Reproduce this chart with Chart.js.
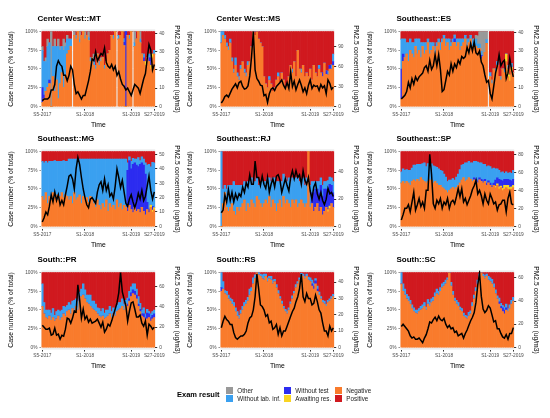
<!DOCTYPE html>
<html>
<head>
<meta charset="utf-8">
<script src="https://cdn.jsdelivr.net/npm/chart.js@4.4.0/dist/chart.umd.min.js"></script>
<style>
  body { margin: 0; background: #fff; width: 550px; height: 418px; position: relative; overflow: hidden; font-family: "Liberation Sans", Arial, sans-serif; }
  .panel { position: absolute; width: 187px; height: 131px; }
  .lg { position: absolute; white-space: nowrap; }
  .lg-title { font-weight: bold; font-size: 7.5px; color: #000; }
  .lg-box { position: absolute; width: 6.5px; height: 6.5px; }
  .lg-text { font-size: 6.3px; color: #1a1a1a; line-height: 8px; }
</style>
</head>
<body>
<div id="panels"></div>
<div id="legend"></div>
<script>
// weeks are shown every 2nd epidemiological week, S5-2017 .. S27-2019
const tickLabels = ['S5-2017', 'S1-2018', 'S1-2019', 'S27-2019'];
const pctTicks = [0, 25, 50, 75, 100];

const categories = ['Other', 'Without lab. inf.', 'Without test', 'Awaiting res.', 'Negative', 'Positive'];
const categoryColors = ['#999999', '#3AA0F0', '#2C2CF0', '#F9D423', '#F97B2C', '#D0191F'];
const categoryKeys = ['oth', 'wli', 'wt', 'aw', 'neg', 'pos'];
// bottom -> top
const stackOrder = ['neg', 'aw', 'wt', 'wli', 'oth', 'pos'];

const panelTitles = ['Center West::MT', 'Center West::MS', 'Southeast::ES',
                     'Southeast::MG', 'Southeast::RJ', 'Southeast::SP',
                     'South::PR', 'South::RS', 'South::SC'];
const pmAxisMax = [41, 113, 40.5, 52, 55, 83, 74, 45.8, 64.5];
const pmTicks = [[0, 10, 20, 30, 40], [0, 30, 60, 90], [0, 10, 20, 30, 40],
                 [0, 10, 20, 30, 40, 50], [0, 20, 40], [0, 20, 40, 60, 80],
                 [0, 20, 40, 60], [0, 10, 20, 30, 40], [0, 20, 40, 60]];

// ---- Center West::MT
const mtNeg = [5,10,20,25,30,0,40,20,35,10, 30,45,25,40,70,75,80,0,95,90, 100,85,95,100,90,95,88,60,65,55, 50,70,55,60,65,50,60,70,75,95, 90,100,0,90,95,100,85,0,95,90, 100,0,80,90,100,85,70,60,55,65, 60,50,65,70];
const mtWli = [50,45,40, 55,50,0,40,60,45,70,45,35,50,40, 20,15,10,0, 0,5,0,5,0,0,5,0,4, 5,0,10,5,0,5,0,0,5,0,0,0, 0,5,0,0,5,0,0,5,0,0,5, 0,0,5,0,0,5, 0,5,0,0,5,0,0,5];
const mtOth = [5,0,5, 10,0,100,0,10,0,10,5,0,15,5, 5,0,0,0, 5,0,0,10,0,0,5,0,8, 0,0,5,0,0,0,5,0,0,0,0,0, 0,0,0,0,0,0,0,0,0,0,0, 0,0,15,0,0,10, 0,0,0,0,0,5,0,0];
const mtWt = [20,5,0, 0,5,0,0,0,0,0,0,0,0,0, 0,0,0,0, 0,0,0,0,0,0,0,0,0, 0,0,0,0,0,0,0,0,0,0,0,0, 0,0,0,0,0,0,0,5,100,0,0, 0,0,0,0,0,0, 0,5,0,0,5,10,0,0];
const mtAw = [0,0,0, 0,0,0,0,0,0,0,0,0,0,0, 0,0,0,0, 0,0,0,0,0,0,0,0,0, 0,0,0,0,0,0,0,0,0,0,0,0, 0,0,0,0,0,0,0,0,0,0,0, 0,0,0,0,0,0, 0,0,5,0,0,5,5,0];
const mtPos = [20,40,35, 10,15,0,20,10,20,10,20,20,10,15, 5,10,10,0, 0,5,0,0,5,0,0,5,0, 35,35,30,45,30,40,35,35,45,40,30,25, 5,5,0,0,5,5,0,10,0,5,5, 0,0,0,10,0,0, 30,30,40,35,30,30,30,25];
const mtPm = [3,4,4,4,5,9,9,12,22,25, 23,22,17,17,14,17,22,20,12,7, 8,6,4,6,6,10,14,19,26,25, 30,25,27,29,28,32,24,22,21,23, 20,22,17,19,15,12,11,9,10,8, 6,9,12,11,10,7,11,15,18,26, 34,31,20,23];

// ---- Center West::MS
const msNeg = [85,95,90,80,75,85, 60,45,55,40,35,50,60,45,40,55,60, 80,100, 95,100,90,85,80, 40,30,25,35,30,20,25,35,40,30,45,35,25,30,40, 55,45,60,40,75,50,45,55,40, 45,40,50,35,55,45,40,50,45,40,55,45,40,50,45,55];
const msWli = [15,5,5,5,5,5, 5,5,10,5,5,5,0,5,5,5,0, 0,0, 0,0,0,0,0, 0,0,0,5,0,0,0,0,5,0,0,0,0,0,0, 0,5,0,0,0,0,5,0,0, 0,0,0,0,0,0,0,5,0,0,0,0,5,0,5,10];
const msWt = [0,0,0,0,0,0, 0,0,0,0,0,0,0,0,0,0,0, 0,0, 0,0,0,0,0, 0,0,0,0,0,0,0,0,0,0,0,0,0,0,0, 0,0,0,0,0,0,0,0,0, 0,0,0,0,0,0,0,0,0,5,0,5,0,5,0,5];
const msPos = [0,0,5,15,20,10, 35,50,35,55,60,45,40,50,55,40,40, 20,0, 5,0,10,15,20, 60,70,75,60,70,80,75,65,55,70,55,65,75,70,60, 45,50,40,60,25,50,50,45,60, 55,60,50,65,45,55,60,45,55,55,40,55,50,45,40,30];
const msPm = [5,9,15,17,14,20,26,30,34,28, 36,38,30,26,27,31,46,75,113,55, 42,38,32,31,16,18,6,19,26,28, 24,30,33,36,40,32,27,36,27,52, 30,38,25,33,40,32,22,28,19,32, 40,27,32,30,31,24,33,28,31,19, 40,35,26,29];

// ---- Southeast::ES
const esNeg = [10,60, 65,70,60,75,70,65,80,70,75,65,80,70,75,85,70,75,80,70,80,85,75, 85,90,80,85,75,80,85,90,80,85,75,80,85,90,80,85,90,80,85,80, 70,70,60,60,65,80,0, 40,30,50,45,55,40,35,50,45,60,40,35,50,45];
const esWli = [40,20, 25,15,25,15,15,20,10,20,15,20,5,15,10,5,15,10,5,10,5,5,10, 5,5,10,5,15,5,5,5,10,5,15,10,5,5,10,5,5,10,5,10, 5,5,5,0,0,5,0, 5,5,0,5,5,0,5,0,5,0,5,0,5,0];
const esWt = [40,10, 0,0,0,0,0,0,0,0,0,0,0,0,0,0,0,0,0,0,0,0,0, 0,0,0,0,0,0,0,5,0,0,0,0,0,0,0,0,0,0,0,0, 0,0,5,0,0,0,0, 0,0,0,0,0,0,0,0,0,0,0,0,0,0];
const esOth = [0,0, 0,0,0,0,0,0,0,0,0,0,0,0,0,0,0,0,0,0,0,0,0, 0,0,0,0,0,0,0,0,0,0,0,0,0,0,0,0,0,0,5,5, 10,15,25,30,25,10,0, 0,0,0,0,0,0,0,0,0,0,0,0,0,0];
const esAw = [0,0, 0,0,0,0,0,0,0,0,0,0,0,0,0,0,0,0,0,0,0,0,0, 0,0,0,0,0,0,0,0,0,0,0,0,0,0,0,0,0,0,0,0, 0,0,0,0,0,0,0, 0,0,0,0,0,0,0,0,0,10,10,8,5,0];
const esPos = [10,10, 10,15,15,10,15,15,10,10,10,15,15,15,15,10,15,15,15,20,15,10,15, 10,5,10,10,10,15,10,5,10,10,10,10,10,5,10,10,5,10,10,5, 5,0,0,0,0,0,0, 55,65,50,50,40,60,60,50,50,30,45,60,45,55];
const esPm = [4,5,6,8,13,10,15,12,16,14, 16,17,18,21,22,19,25,20,22,28, 22,28,20,8,9,14,19,17,23,19, 23,21,25,23,27,26,27,32,29,34, 30,35,29,28,30,24,22,17,13,14, 7,4,11,18,22,28,22,24,25,15, 18,26,20,16];

// ---- Southeast::MG
const mgNeg = [40,35,45,30,40,35,45,38,42,35,40,45,38,42,40, 35,40,30,45,35,38,42,30,40,35,38,32,40,36, 30,25,35,28,22,30,25,35,20,30,25,28,22,35,25,30,22,28, 25,20,28,22,18,25,20,22,18,25,20,15,22,18,25,20,22];
const mgWli = [47,50,42,55,47,52,42,50,45,52,47,42,50,45,47, 55,50,60,45,55,52,48,60,50,55,52,58,50,54, 60,65,55,62,68,60,65,55,70,60,65,62,68,55,65,60,68,62, 65,10,5,10,8,5,8,12,5,8,8,15,50,60,50,62,60];
const mgWt = [0,0,0,0,0,0,0,0,0,0,0,0,0,0,0, 0,0,0,0,0,0,0,0,0,0,0,0,0,0, 0,0,0,0,0,0,0,0,0,0,0,0,0,0,0,0,0,0, 0,55,60,55,65,60,62,58,65,60,62,55,10,5,0,5,0];
const mgAw = [0,0,0,0,0,0,0,0,0,0,0,0,0,0,0, 0,0,0,0,0,0,0,0,0,0,0,0,0,0, 0,0,0,0,0,0,0,0,0,0,0,0,0,0,0,0,0,0, 0,0,0,0,0,0,0,0,0,0,0,0,0,0,3,3,3];
const mgPos = [13,15,13,15,13,13,13,12,13,13,13,13,12,13,13, 10,10,10,10,10,10,10,10,10,10,10,10,10,10, 10,10,10,10,10,10,10,10,10,10,10,10,10,10,10,10,10,10, 10,15,7,13,9,10,10,8,12,7,10,15,18,17,20,15,15];
const mgPm = [3,6,10,8,14,22,17,24,18,22, 15,18,15,22,28,35,36,33,26,40, 48,43,34,26,20,15,13,19,20,18, 16,24,29,31,25,33,25,29,21,23, 19,28,40,34,27,32,24,16,14,19, 22,17,13,17,23,19,25,18,21,28, 35,25,19,24];

// ---- Southeast::RJ
const rjNeg = [0, 30,45,25,20,25,30,20,15,25,20, 25,30,35,20,30,25,35,30,25,40,35,30,25,30, 35,30,40,25,35,30,20,30,35,25,40,30,35,30,25,35, 30,35,25,30,35,30,25,30,100,25, 30,20,25,30,20,25,15,20,25,20,25,30,25];
const rjWli = [100, 20,10,25,35,30,25,40,40,30,35, 30,25,25,35,30,35,30,25,35,25,20,25,35,30, 25,35,25,35,30,35,40,30,25,35,30,35,25,35,35,30, 35,30,40,30,25,35,30,35,0,30, 15,15,10,10,15,10,15,10,10,15,10,10,15];
const rjWt = [0, 0,0,0,0,0,0,0,0,0,0, 0,0,0,0,0,0,0,0,0,0,0,0,0,0, 0,0,0,0,0,0,0,0,0,0,0,0,0,0,0,0, 0,0,0,0,0,0,0,0,0,0, 15,25,25,20,25,30,25,30,25,25,30,25,20];
const rjAw = [0, 0,0,0,0,0,0,0,0,0,0, 0,0,0,0,0,0,0,0,0,0,0,0,0,0, 0,0,0,0,0,0,0,0,0,0,0,0,0,0,0,0, 0,0,0,0,0,0,0,0,0,0, 0,0,0,0,0,0,0,0,0,3,3,0,0];
const rjPos = [0, 50,45,50,45,45,45,40,45,45,45, 45,45,40,45,40,40,35,45,40,35,45,45,40,40, 40,35,35,40,35,35,40,40,40,40,30,35,40,35,40,35, 35,35,35,40,40,35,45,35,0,45, 40,40,40,40,40,35,45,40,40,40,35,35,40];
const rjPm = [10,12,23,18,27,19,25,18,24,20, 24,22,29,25,32,29,38,31,31,48, 36,36,30,37,31,28,36,25,31,35, 29,37,38,34,25,30,35,30,26,36, 41,35,41,36,38,31,41,34,31,36, 26,20,29,32,24,20,25,19,16,20, 28,24,25,22];

// ---- Southeast::SP
const spNeg = [58,60,57,60,58,55,60, 62,60,63,60,65,62,60,58,60,62,60,58,60,57,55, 55,52,50,48,45,48,50,52, 50,52,55,58,62,65,60,62,65,63,60, 62,60,58,62,60,58,60,55,58,55,52,55, 52,55,50,52,48,50,52,50,48,50,52];
const spWli = [15,17,18,16,17,20,18, 20,22,20,23,18,22,25,22,24,20,22,23,20,22,22, 20,22,20,18,15,14,12,12, 12,14,15,18,20,18,25,23,22,22,25, 22,24,25,20,22,22,20,22,20,22,22,20, 15,12,12,10,12,8,10,8,10,10,12];
const spWt = [0,0,0,0,0,0,0, 0,0,0,0,0,0,0,0,0,0,0,0,0,0,0, 0,0,0,0,0,0,0,0, 0,0,0,0,0,0,0,0,0,0,0, 3,3,3,3,3,3,3,3,3,3,3,3, 8,8,10,8,10,8,8,8,10,8,8];
const spAw = [0,0,0,0,0,0,0, 0,0,0,0,0,0,0,0,0,0,0,0,0,0,0, 0,0,0,0,0,0,0,0, 0,0,0,0,0,0,0,0,0,0,0, 0,0,0,0,0,0,0,0,0,0,0,0, 2,2,3,2,3,5,3,5,4,3,3];
const spPos = [27,23,25,24,25,25,22, 18,18,17,17,17,16,15,20,16,18,16,19,20,21,23, 25,26,30,34,40,38,38,36, 38,34,30,24,18,17,15,15,13,15,15, 13,13,14,15,15,17,17,20,19,20,23,22, 23,23,25,28,27,29,27,29,28,29,25];
const spPm = [7,13,20,20,24,16,27,38,18,24, 31,22,27,20,40,40,80,58,25,20, 29,25,31,20,27,24,31,20,27,29, 25,33,42,33,42,27,31,24,29,34, 41,45,51,36,40,34,25,36,29,25, 36,31,25,27,18,24,25,29,29,16, 31,38,25,24];

// ---- South::PR
const prNeg = [55,45, 40,38,42,36,40,35,38,42,36,40, 45,42,48,50,45,52,48,55,50, 62,68,70,65,60,58,55,52, 50,48,45,42,40,42,38,40, 42,45,40,45,42,48,50, 52,55,50,58,55,62,68, 72,70,65,55,48,42,40, 35,38,40,35,38,40];
const prWli = [30,15, 10,12,8,10,12,8,10,8,12,10, 10,12,8,10,12,10,15,10,12, 12,10,15,12,10,12,15,10, 12,10,8,10,8,10,8,10, 8,10,8,8,10,8,10, 8,10,8,5,8,10,8, 8,10,8,10,8,5,8, 5,5,3,5,5,5];
const prWt = [0,0, 0,0,0,0,0,0,0,0,0,0, 0,0,0,0,0,0,0,0,0, 0,0,0,0,0,0,0,0, 0,0,0,0,0,0,0,0, 0,0,0,0,0,0,0, 0,0,0,0,3,3,5, 5,5,5,3,3,3,5, 5,8,5,5,5,5];
const prPos = [15,40, 50,50,50,54,48,57,52,50,52,50, 45,46,44,40,43,38,37,35,38, 26,22,15,23,30,30,30,38, 38,42,47,48,52,48,54,50, 50,45,52,47,48,44,40, 40,35,42,37,34,25,19, 15,15,22,32,41,50,47, 55,49,52,55,52,50];
const prPm = [22,20,18,18,19,12,13,19,12,13, 8,12,11,18,29,28,24,29,36,35, 62,47,29,38,28,31,25,28,24,25, 26,28,24,20,25,15,18,23,21,26, 32,38,44,54,74,55,48,41,26,36, 44,45,38,30,30,32,24,21,26,12, 23,21,18,20];

// ---- South::RS
const rsNeg = [75,78, 72,70,65,62,58,55,48, 42,38,45, 50,55,58,62,70,75,85,92, 100,97,95, 92,90,95,88,92,90,85,88, 80,72,65,58,52,48,45,50, 58,65,72,80,85,90, 97,95,92,95,90,88, 82,78,85,75,70, 65,60,58,55,60,62,65,68];
const rsWli = [20,10, 4,5,5,4,6,5,5, 6,5,5, 5,5,5,5,8,5,8,5, 0,3,3, 5,8,3,5,3,5,5,3, 4,4,3,4,3,3,4,3, 3,4,3,4,3,3, 2,3,3,3,4,5, 5,4,3,4,4, 3,3,4,3,3,3,3,3];
const rsWt = [5,0, 0,0,0,0,0,0,0, 0,0,0, 0,0,0,0,0,0,0,0, 0,0,0, 0,0,0,0,0,0,0,0, 0,0,0,0,0,0,0,0, 0,0,0,0,0,0, 0,0,0,0,0,0, 3,4,4,3,0, 0,0,0,0,0,0,0,0];
const rsPos = [0,12, 24,25,30,34,36,40,47, 52,57,50, 45,40,37,33,22,20,7,3, 0,0,2, 3,2,2,7,5,5,10,9, 16,24,32,38,45,49,51,47, 39,31,25,16,12,7, 1,2,5,2,6,7, 10,14,8,18,26, 32,37,38,42,37,35,32,29];
const rsPm = [12,16,19,17,16,14,14,9,6,5, 6,7,7,8,10,15,18,19,23,31, 45,36,26,25,23,19,20,15,16,11, 12,14,8,12,7,10,10,13,16,19, 22,24,28,31,36,45,31,28,33,30, 30,26,27,32,28,23,21,15,10,10, 7,13,10,12];

// ---- South::SC
const scNeg = [85,75, 70,65,62,58,52, 48,46,45,48,50, 52,55,50,58,55,60, 62,68,72,70,75,80, 82,85,90,100,82, 70,62,58,55,50,48, 42,40,38,42,45, 55,65,75,85, 95,100,95,92,95,90, 88,85,80,72,65, 58,52,48,45,50, 48,52,58,62];
const scWli = [15,10, 8,6,6,5,5, 5,4,5,4,5, 5,5,4,6,5,5, 5,5,6,5,5,5, 5,5,3,0,5, 5,4,5,5,4,4, 4,3,4,5,4, 5,5,5,5, 3,0,3,4,3,5, 5,6,5,5,4, 5,4,3,4,5, 4,5,5,5];
const scWt = [0,0, 0,0,0,0,0, 0,0,0,0,0, 0,0,0,0,0,0, 0,0,0,0,0,0, 0,0,0,0,0, 0,0,0,0,0,0, 0,0,0,0,0, 0,0,0,0, 0,0,0,0,0,0, 0,0,0,0,0, 3,3,5,5,3, 0,0,0,0];
const scPos = [0,15, 22,29,32,37,43, 47,50,50,48,45, 43,40,46,36,40,35, 33,27,22,25,20,15, 13,10,7,0,13, 25,34,37,40,46,48, 54,57,58,53,51, 40,30,20,10, 2,0,2,4,2,5, 7,9,15,23,31, 34,41,44,46,42, 48,43,37,33];
const scPm = [18,20,18,16,14,10,8,9,7,7, 8,6,4,8,11,16,22,21,24,26, 23,27,24,23,25,20,17,19,16,17, 13,14,10,11,12,8,12,15,19,23, 26,30,39,54,64,44,33,30,32,36, 34,28,22,23,16,16,12,9,8,11, 7,12,12,17];

const panels = [
  { neg: mtNeg, aw: mtAw, wt: mtWt, wli: mtWli, oth: mtOth, pos: mtPos, pm: mtPm },
  { neg: msNeg, wt: msWt, wli: msWli, pos: msPos, pm: msPm },
  { neg: esNeg, aw: esAw, wt: esWt, wli: esWli, oth: esOth, pos: esPos, pm: esPm },
  { neg: mgNeg, aw: mgAw, wt: mgWt, wli: mgWli, pos: mgPos, pm: mgPm },
  { neg: rjNeg, aw: rjAw, wt: rjWt, wli: rjWli, pos: rjPos, pm: rjPm },
  { neg: spNeg, aw: spAw, wt: spWt, wli: spWli, pos: spPos, pm: spPm },
  { neg: prNeg, wt: prWt, wli: prWli, pos: prPos, pm: prPm },
  { neg: rsNeg, wt: rsWt, wli: rsWli, pos: rsPos, pm: rsPm },
  { neg: scNeg, wt: scWt, wli: scWli, pos: scPos, pm: scPm }
];

// week labels: every 2nd week from S5-2017 (52-week years)
const weekLabels = [];
for (let i = 0, w = 5, yr = 2017; i < 64; i++) {
  weekLabels.push('S' + w + '-' + yr);
  w += 2;
  if (w > 52) { w -= 52; yr++; }
}

const colLeft = [0, 178.5, 358.5];
const rowTop = [0, 120, 241];
const FONT = '"Liberation Sans", Arial, sans-serif';
Chart.defaults.font.family = FONT;

// grey panel background + left aligned panel title
const panelDeco = {
  id: 'panelDeco',
  beforeDraw(chart) {
    const { ctx, chartArea: a } = chart;
    ctx.save();
    ctx.fillStyle = '#EBEBEB';
    ctx.fillRect(a.left, a.top, a.right - a.left, a.bottom - a.top);
    ctx.restore();
  },
  afterDraw(chart, args, opts) {
    const { ctx, chartArea: a } = chart;
    ctx.save();
    ctx.font = 'bold 8px ' + FONT;
    ctx.fillStyle = '#000';
    ctx.textBaseline = 'middle';
    ctx.fillText(opts.title, a.left - 4, a.top - 11);
    ctx.restore();
  }
};

// share of each result (position "fill")
function toPercent(p) {
  const out = {};
  stackOrder.forEach(k => { if (p[k]) out[k] = []; });
  for (let i = 0; i < weekLabels.length; i++) {
    let total = 0;
    stackOrder.forEach(k => { if (p[k]) total += p[k][i] || 0; });
    stackOrder.forEach(k => {
      if (!p[k]) return;
      out[k].push(total ? (p[k][i] || 0) / total * 100 : null);
    });
  }
  return out;
}

const tickFont = { size: 4.8 };
const titleFont = { size: 6.8 };

panels.forEach((p, n) => {
  const box = document.createElement('div');
  box.className = 'panel';
  box.style.left = colLeft[n % 3] + 'px';
  box.style.top = rowTop[Math.floor(n / 3)] + 'px';
  const canvas = document.createElement('canvas');
  box.appendChild(canvas);
  document.getElementById('panels').appendChild(box);

  const pct = toPercent(p);
  const datasets = [{
    type: 'line',
    data: p.pm,
    yAxisID: 'y2',
    borderColor: '#000',
    borderWidth: 1.5,
    pointRadius: 0,
    tension: 0,
    order: 0
  }];
  stackOrder.forEach(k => {
    if (!pct[k]) return;
    const c = categoryColors[categoryKeys.indexOf(k)];
    datasets.push({
      type: 'bar',
      label: categories[categoryKeys.indexOf(k)],
      data: pct[k],
      yAxisID: 'y',
      backgroundColor: c,
      borderWidth: 0,
      barPercentage: 1,
      categoryPercentage: 1,
      order: 1
    });
  });

  const M = pmAxisMax[n];
  new Chart(canvas, {
    data: { labels: weekLabels, datasets: datasets },
    options: {
      responsive: true,
      maintainAspectRatio: false,
      animation: false,
      events: [],
      layout: { padding: { left: 3, right: 3, top: 29.4, bottom: 0 } },
      plugins: {
        legend: { display: false },
        tooltip: { enabled: false },
        panelDeco: { title: panelTitles[n] }
      },
      scales: {
        x: {
          type: 'category',
          stacked: true,
          offset: true,
          grid: { color: 'rgba(0,0,0,0)', tickColor: '#333', tickLength: 2, offset: false },
          border: { display: false },
          afterBuildTicks(axis) {
            axis.ticks = axis.ticks.filter(t => tickLabels.includes(weekLabels[t.value]));
          },
          ticks: { autoSkip: false, maxRotation: 0, minRotation: 0, padding: 1.5, font: tickFont, color: '#4D4D4D' },
          title: { display: true, text: 'Time', font: titleFont, color: '#000', padding: { top: 1.5, bottom: 2 } }
        },
        y: {
          stacked: true,
          min: -3,
          max: 103,
          afterBuildTicks(axis) { axis.ticks = pctTicks.map(v => ({ value: v })); },
          grid: { color: '#fff', lineWidth: 0.5, tickColor: '#333', tickLength: 2 },
          border: { display: false },
          ticks: { padding: 2, font: tickFont, color: '#4D4D4D', callback: v => v + '%' },
          title: { display: true, text: 'Case number (% of total)', font: titleFont, color: '#000', padding: { top: 4.5, bottom: 7.5 } }
        },
        y2: {
          position: 'right',
          min: -0.03 * M,
          max: 1.03 * M,
          afterBuildTicks(axis) { axis.ticks = pmTicks[n].map(v => ({ value: v })); },
          grid: { drawOnChartArea: false, tickColor: '#333', tickLength: 2 },
          border: { display: false },
          ticks: { padding: 2, font: tickFont, color: '#4D4D4D' },
          title: { display: true, text: 'PM2.5 concentration (ug/m3)', font: titleFont, color: '#000', padding: { top: 3, bottom: 6.3 } }
        }
      }
    },
    plugins: [panelDeco]
  });
});

// legend, filled column by column (2 rows)
const legend = document.getElementById('legend');
const lgTitle = document.createElement('div');
lgTitle.className = 'lg lg-title';
lgTitle.style.left = '177px';
lgTitle.style.top = '390px';
lgTitle.textContent = 'Exam result';
legend.appendChild(lgTitle);
const lgCols = [226, 284, 335];
const lgRows = [390.7, 398.7];
categories.forEach((name, i) => {
  const x = lgCols[Math.floor(i / 2)];
  const y = lgRows[i % 2];
  const sq = document.createElement('div');
  sq.className = 'lg-box';
  sq.style.left = x + 'px';
  sq.style.top = (y - 3.3) + 'px';
  sq.style.background = categoryColors[i];
  legend.appendChild(sq);
  const t = document.createElement('div');
  t.className = 'lg lg-text';
  t.style.left = (x + 11.3) + 'px';
  t.style.top = (y - 4) + 'px';
  t.textContent = name;
  legend.appendChild(t);
});
</script>
</body>
</html>
